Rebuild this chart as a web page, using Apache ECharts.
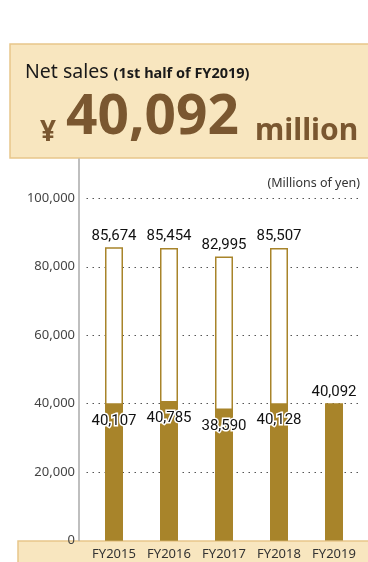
<!DOCTYPE html>
<html>
<head>
<meta charset="utf-8">
<script src="https://cdn.jsdelivr.net/npm/echarts@6/dist/echarts.min.js"></script>
<style>
  html, body { margin: 0; padding: 0; background: #fff; }
  #main { width: 368px; height: 562px; }
</style>
</head>
<body>
<div id="main"></div>
<script>
// data
const categories = ['FY2015', 'FY2016', 'FY2017', 'FY2018', 'FY2019'];
const fullYear = [85674, 85454, 82995, 85507, null];
const firstHalf = [40107, 40785, 38590, 40128, 40092];

const gold = '#a8842a';
const brown = '#7a5730';
const beige = '#f8e6bf';
const beigeLine = '#e8c68a';
const narrow = 'Roboto, sans-serif';
const sans = '"Noto Sans", sans-serif';

const chart = echarts.init(document.getElementById('main'));

const fmt = v => echarts.format.addCommas(v);

let option = {
  animation: false,
  title: [
    {
      left: 20, top: 57,
      text: '{a|Net sales} {b|(1st half of FY2019)}',
      textStyle: {
        rich: {
          a: { fontSize: 19.5, fontWeight: 'normal', color: '#1a1a1a', fontFamily: sans, verticalAlign: 'bottom' },
          b: { fontSize: 14.5, fontWeight: 'bold', color: '#1a1a1a', fontFamily: sans, verticalAlign: 'bottom', padding: [0, 0, 1, 0] }
        }
      }
    },
    { left: 35, top: 114, text: '¥', textStyle: { fontSize: 28, fontWeight: 'bold', color: brown, fontFamily: sans } },
    { left: 61, top: 86, text: '40,092', textStyle: { fontSize: 55, fontWeight: 'bold', color: brown, fontFamily: sans } },
    { left: 250, top: 111, text: 'million', textStyle: { fontSize: 30, fontWeight: 'bold', color: brown, fontFamily: sans } },
    { right: 3, top: 172, text: '(Millions of yen)', textStyle: { fontSize: 12.5, fontWeight: 'normal', color: '#333', fontFamily: sans } }
  ],
  graphic: [
    { type: 'rect', z: -10, shape: { x: 10, y: 44, width: 370, height: 114 }, style: { fill: beige, stroke: beigeLine, lineWidth: 1.5 } },
    { type: 'rect', z: -10, shape: { x: 18, y: 541, width: 360, height: 30 }, style: { fill: beige, stroke: beigeLine, lineWidth: 1.5 } }
  ],
  grid: { left: 86.5, right: 6.5, top: 159, bottom: 21.5 },
  xAxis: {
    type: 'category',
    data: categories,
    axisLine: { show: false },
    axisTick: { show: false },
    axisLabel: { interval: 0, color: '#333', fontSize: 13, fontFamily: sans, margin: 7 }
  },
  yAxis: {
    type: 'value',
    min: 0, max: 111500, interval: 20000,
    offset: 7.5,
    axisLine: { show: true, lineStyle: { color: '#aaa', width: 1.5 } },
    axisTick: { show: false },
    axisLabel: { color: '#444', fontSize: 13, fontFamily: sans, margin: 4, showMaxLabel: false, formatter: v => fmt(v) },
    splitLine: { show: true, showMinLine: false, showMaxLine: false, lineStyle: { color: '#555', width: 1, type: [1.5, 4.5] } }
  },
  series: [
    {
      name: 'Full year',
      type: 'bar',
      barWidth: 18,
      data: fullYear,
      itemStyle: { color: '#fff', borderColor: gold, borderWidth: 1.5 },
      label: { show: true, position: 'top', distance: 4, color: '#111', fontSize: 15, fontFamily: narrow, formatter: p => fmt(p.value) }
    },
    {
      name: '1st half',
      type: 'bar',
      barWidth: 18,
      barGap: '-100%',
      data: firstHalf.map((v, i) => i === firstHalf.length - 1
        ? { value: v, label: { position: 'top', distance: 4, textBorderWidth: 0 } }
        : v),
      itemStyle: { color: gold },
      label: {
        show: true, position: 'insideTop', distance: 10,
        color: '#111', fontSize: 15, fontFamily: narrow,
        textBorderColor: '#fff', textBorderWidth: 3,
        formatter: p => fmt(p.value)
      }
    }
  ]
};
chart.setOption(option);
</script>
</body>
</html>
